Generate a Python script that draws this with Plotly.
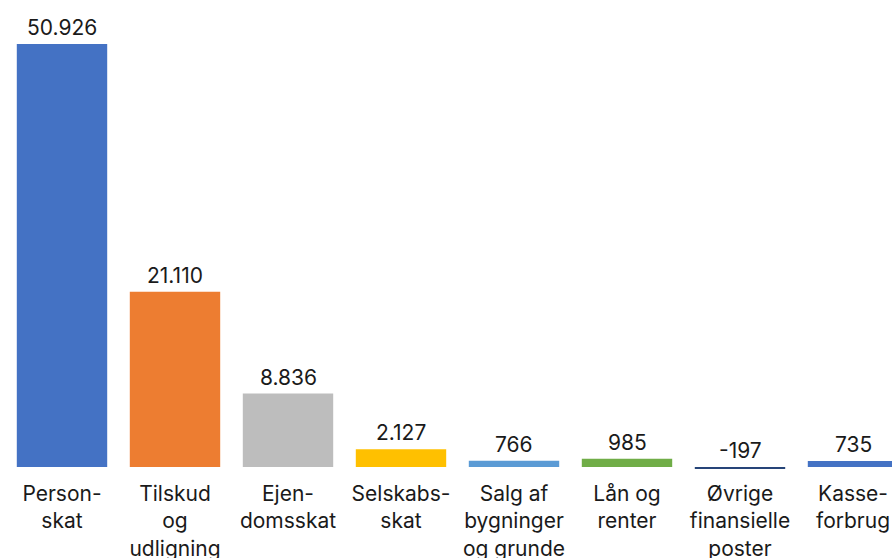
import plotly.graph_objects as go

categories = ["Personskat", "Tilskud og udligning", "Ejendomsskat", "Selskabsskat",
              "Salg af bygninger og grunde", "Lån og renter", "Øvrige finansielle poster", "Kasseforbrug"]
tick_labels = ["Person-<br>skat", "Tilskud<br>og<br>udligning", "Ejen-<br>domsskat", "Selskabs-<br>skat",
               "Salg af<br>bygninger<br>og grunde", "Lån og<br>renter", "Øvrige<br>finansielle<br>poster", "Kasse-<br>forbrug"]
values = [50926, 21110, 8836, 2127, 766, 985, -197, 735]
value_labels = ["50.926", "21.110", "8.836", "2.127", "766", "985", "-197", "735"]
colors = ["#4472C4", "#ED7D31", "#BDBDBD", "#FFC000", "#5B9BD5", "#70AD47", "#264478", "#4472C4"]

FONT = "Inter, Lato, sans-serif"
FS = 21
xs = list(range(len(categories)))

fig = go.Figure(go.Bar(
    x=xs, y=values, width=0.8, marker=dict(color=colors, line=dict(width=0)),
    hovertext=categories, hoverinfo="text+y",
))

for x, v, lab in zip(xs, values, value_labels):
    fig.add_annotation(x=x, y=max(v, 0), text=lab, showarrow=False,
                       yanchor="bottom", yshift=2,
                       font=dict(family=FONT, size=FS, color="#1a1a1a"))

W = 892
R0 = -62 / 113
fig.update_layout(
    width=W, height=558,
    margin=dict(l=0, r=0, t=44, b=88, autoexpand=False),
    paper_bgcolor="white", plot_bgcolor="white",
    showlegend=False,
    font=dict(family=FONT, size=FS, color="#1a1a1a"),
    xaxis=dict(range=[R0, R0 + W / 113], tickvals=xs, ticktext=tick_labels,
               showgrid=False, zeroline=False, showline=False, ticks="",
               ticklabelstandoff=9, automargin=False,
               tickfont=dict(family=FONT, size=FS, color="#1a1a1a")),
    yaxis=dict(range=[-361, 50926], visible=False, showgrid=False, zeroline=False,
               automargin=False),
)

fig.write_html("out.html", config={"displayModeBar": False},
               post_script="document.body.style.margin='0';document.body.style.overflow='hidden';")
